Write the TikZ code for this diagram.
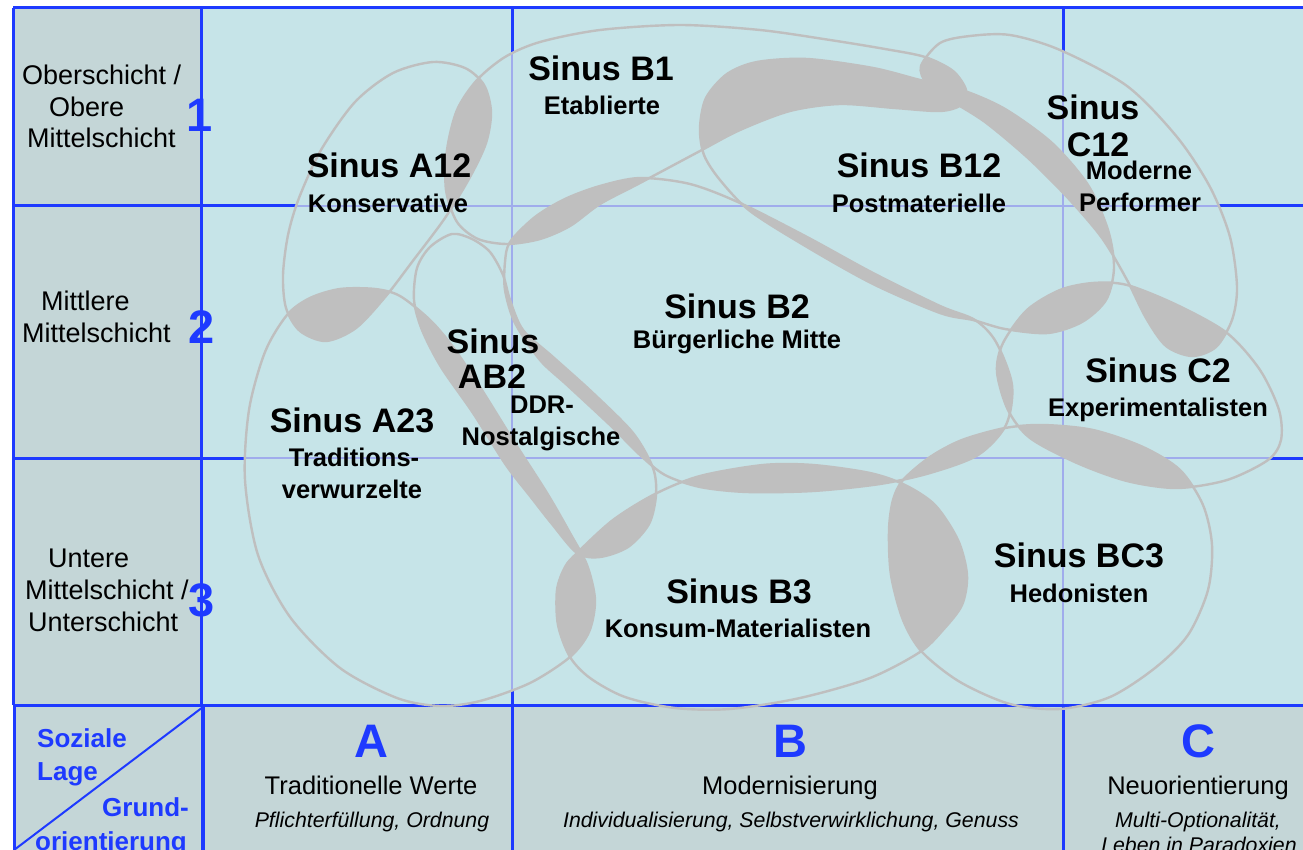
\documentclass[tikz,border=0pt]{standalone}
\usepackage{fontspec}
\setmainfont{Liberation Sans}
\definecolor{bgmain}{RGB}{198,228,232}
\definecolor{bgside}{RGB}{196,214,215}
\definecolor{blobgray}{RGB}{191,191,191}
\definecolor{gridblue}{RGB}{30,58,255}
\definecolor{thinline}{RGB}{160,172,236}

% milieu shapes (x right, y down, in px)
\def\blobK{plot[smooth cycle] coordinates {(433,62) (465,68) (484,85) (491,112) (486,143) (470,177) (445,218) (412,262) (386,296) (356,328) (326,341) (300,331) (286,308) (283,275) (288,235) (299,198) (321,150) (355,102) (393,73)}}
\def\blobE{plot[smooth cycle] coordinates {(540,42) (600,30) (680,25) (760,30) (830,40) (885,49) (925,57) (953,71) (966,90) (961,105) (940,111) (895,108) (840,104) (790,111) (740,130) (700,151) (640,183) (600,204) (570,226) (540,239) (507,244) (478,239) (457,222) (446,190) (447,150) (457,110) (477,80) (505,57)}}
\def\blobP{plot[smooth cycle] coordinates {(700,128) (706,98) (727,74) (757,62) (807,59) (873,68) (920,80) (962,90) (1005,109) (1052,143) (1088,185) (1108,230) (1114,268) (1106,300) (1082,322) (1048,333) (1005,329) (973,320) (940,313) (873,284) (807,247) (750,211) (720,180) (704,155)}}
\def\blobM{plot[smooth cycle] coordinates {(940,43) (970,36) (1010,35) (1060,50) (1127,86) (1177,137) (1210,187) (1230,237) (1237,287) (1232,320) (1216,347) (1192,356) (1166,346) (1146,318) (1127,280) (1102,238) (1068,198) (1028,158) (985,122) (950,100) (927,84) (921,66)}}
\def\blobG{plot[smooth cycle] coordinates {(510,242) (535,217) (565,199) (600,186) (640,178) (690,184) (740,203) (807,237) (873,273) (940,306) (975,320) (996,342) (1012,385) (1006,425) (978,455) (930,473) (880,484) (813,491) (747,492) (700,487) (665,475) (640,455) (610,425) (567,385) (540,360) (515,323) (505,290) (505,262)}}
\def\blobD{plot[smooth cycle] coordinates {(452,234) (472,239) (490,252) (503,275) (510,300) (523,330) (553,357) (593,393) (633,433) (653,468) (656,495) (649,524) (628,547) (600,557) (577,553) (552,524) (530,496) (506,465) (473,413) (441,367) (422,330) (414,300) (417,268) (430,247)}}
\def\blobT{plot[smooth cycle] coordinates {(265,352) (287,315) (310,298) (340,289) (375,289) (400,296) (430,320) (453,347) (480,387) (513,440) (547,493) (570,533) (587,565) (595,600) (589,632) (570,657) (530,683) (480,701) (440,706) (397,698) (340,668) (290,617) (258,555) (245,480) (249,410)}}
\def\blobX{plot[smooth cycle] coordinates {(997,372) (1003,343) (1027,310) (1060,290) (1093,283) (1127,285) (1177,305) (1227,333) (1260,370) (1279,410) (1281,440) (1268,460) (1227,480) (1177,488) (1127,481) (1077,463) (1030,438) (1008,410)}}
\def\blobH{plot[smooth cycle] coordinates {(903,480) (930,457) (962,440) (1005,428) (1043,425) (1093,430) (1143,447) (1180,470) (1203,505) (1212,545) (1208,590) (1188,635) (1155,668) (1110,697) (1060,709) (1010,704) (960,682) (922,652) (903,620) (891,575) (889,530) (893,500)}}
\def\blobS{plot[smooth cycle] coordinates {(577,553) (613,520) (655,494) (700,476) (763,465) (813,465) (870,473) (905,485) (935,505) (958,540) (967,575) (962,605) (943,630) (920,652) (870,678) (800,698) (730,709) (675,708) (625,697) (590,678) (570,657) (558,625) (557,590) (565,567)}}

\newcommand\milov[2]{\begin{scope}\clip #1;\fill[blobgray] #2;\end{scope}}
\newcommand\milthin[1]{\begin{scope}\clip #1;\draw[thinl] (512,8)--(512,705) (1063,8)--(1063,705) (201,206)--(1303,206) (201,458)--(1303,458);\end{scope}}

\begin{document}
\begin{tikzpicture}[x=1pt,y=-1pt,
  thickl/.style={draw=gridblue,line width=3pt},
  thinl/.style={draw=thinline,line width=1.1pt},
  blobline/.style={draw=blobgray,line width=2.4pt},
  ttl/.style={font=\fontsize{34}{38}\selectfont\bfseries,anchor=base,inner sep=0pt},
  sub/.style={font=\fontsize{25.5}{28}\selectfont\bfseries,anchor=base,inner sep=0pt},
  side/.style={font=\fontsize{27}{30}\selectfont,anchor=base west,inner sep=0pt},
  num/.style={font=\fontsize{47}{50}\selectfont\bfseries,text=gridblue,anchor=base,inner sep=0pt},
  orient/.style={font=\fontsize{25.5}{28}\selectfont,anchor=base,inner sep=0pt},
  orsub/.style={font=\fontsize{21.3}{24}\selectfont\itshape,anchor=base,inner sep=0pt},
  diag/.style={font=\fontsize{26}{28}\selectfont\bfseries,text=gridblue,anchor=base west,inner sep=0pt}]
\useasboundingbox (0,0) rectangle (1303,850);
\fill[white] (0,0) rectangle (1303,850);
\fill[bgmain] (13,8) rectangle (1303,705);
\fill[bgside] (13,8) rectangle (201,705);
\fill[bgside] (14,705) rectangle (1303,850);
% grid lines (thick)
\draw[thickl] (512,8)--(512,705) (1063,8)--(1063,705) (13,206)--(1303,206) (13,458)--(1303,458);
% milieu areas cover the thick lines
\begin{scope}
\clip (13,8) rectangle (1303,705);
\fill[bgmain] \blobK; \fill[bgmain] \blobE; \fill[bgmain] \blobP; \fill[bgmain] \blobM; \fill[bgmain] \blobG;
\fill[bgmain] \blobD; \fill[bgmain] \blobT; \fill[bgmain] \blobX; \fill[bgmain] \blobH; \fill[bgmain] \blobS;
\end{scope}
% thin grid lines inside milieus
\milthin\blobK \milthin\blobE \milthin\blobP \milthin\blobM \milthin\blobG
\milthin\blobD \milthin\blobT \milthin\blobX \milthin\blobH \milthin\blobS
% overlaps
\milov\blobK\blobE \milov\blobK\blobP \milov\blobK\blobM \milov\blobK\blobG \milov\blobK\blobD
\milov\blobK\blobT \milov\blobK\blobX \milov\blobK\blobH \milov\blobK\blobS
\milov\blobE\blobP \milov\blobE\blobM \milov\blobE\blobG \milov\blobE\blobD \milov\blobE\blobT
\milov\blobE\blobX \milov\blobE\blobH \milov\blobE\blobS
\milov\blobP\blobM \milov\blobP\blobG \milov\blobP\blobD \milov\blobP\blobT \milov\blobP\blobX
\milov\blobP\blobH \milov\blobP\blobS
\milov\blobM\blobG \milov\blobM\blobD \milov\blobM\blobT \milov\blobM\blobX \milov\blobM\blobH \milov\blobM\blobS
\milov\blobG\blobD \milov\blobG\blobT \milov\blobG\blobX \milov\blobG\blobH \milov\blobG\blobS
\milov\blobD\blobT \milov\blobD\blobX \milov\blobD\blobH \milov\blobD\blobS
\milov\blobT\blobX \milov\blobT\blobH \milov\blobT\blobS
\milov\blobX\blobH \milov\blobX\blobS
\milov\blobH\blobS
% borders
\draw[thickl] (13,8)--(1303,8) (13,8)--(13,705) (201,8)--(201,705) (13,705)--(1303,705);
\draw[thickl] (14,705)--(14,850) (512,705)--(512,850) (1063,705)--(1063,850);
\draw[draw=gridblue,line width=4pt] (203,705)--(203,850);
\draw[draw=gridblue,line width=2pt] (14,850)--(203,707);
% milieu outlines
\draw[blobline] \blobK; \draw[blobline] \blobE; \draw[blobline] \blobP; \draw[blobline] \blobM; \draw[blobline] \blobG;
\draw[blobline] \blobD; \draw[blobline] \blobT; \draw[blobline] \blobX; \draw[blobline] \blobH; \draw[blobline] \blobS;
% side labels
\node[side] (s1a) at (22,85) {Oberschicht /};
\node[side] (s1b) at (49,117) {Obere};
\node[side] (s1c) at (27,148) {Mittelschicht};
\node[side] (s2a) at (41,310) {Mittlere};
\node[side] (s2b) at (22,342) {Mittelschicht};
\node[side] (s3a) at (48,567) {Untere};
\node[side] (s3b) at (25,599) {Mittelschicht /};
\node[side] (s3c) at (28,631) {Unterschicht};
\node[num] (n1) at (200,132) {1};
\node[num] (n2) at (202,343) {2};
\node[num] (n3) at (202,616) {3};
% bottom labels
\node[num] (cA) at (371,757) {A};
\node[num] (cB) at (790,757) {B};
\node[num] (cC) at (1198,757) {C};
\node[orient] (oA) at (371,794) {Traditionelle Werte};
\node[orient] (oB) at (790,794) {Modernisierung};
\node[orient] (oC) at (1198,794) {Neuorientierung};
\node[orsub] (pA) at (372,827) {Pflichterfüllung, Ordnung};
\node[orsub] (pB) at (791,827) {Individualisierung, Selbstverwirklichung, Genuss};
\node[orsub] (pC) at (1198,827) {Multi-Optionalität,};
\node[orsub] (pC2) at (1199,852) {Leben in Paradoxien};
\node[diag] (d1) at (37,747) {Soziale};
\node[diag] (d2) at (37,780) {Lage};
\node[diag] (d3) at (102,816) {Grund-};
\node[diag] (d4) at (35,850) {orientierung};
% milieu labels
\node[ttl] (tB1) at (601,81) {Sinus B1};
\node[sub] (uB1) at (602,115) {Etablierte};
\node[ttl] (tA12) at (389,178) {Sinus A12};
\node[sub] (uA12) at (388,213) {Konservative};
\node[ttl] (tB12) at (919,178) {Sinus B12};
\node[sub] (uB12) at (919,213) {Postmaterielle};
\node[ttl] (tC12a) at (1093,120) {Sinus};
\node[ttl] (tC12b) at (1098,157) {C12};
\node[sub] (uC12a) at (1139,180) {Moderne};
\node[sub] (uC12b) at (1140,212) {Performer};
\node[ttl] (tB2) at (737,318) {Sinus B2};
\node[sub] (uB2) at (737,348) {Bürgerliche Mitte};
\node[ttl] (tAB2a) at (493,353) {Sinus};
\node[ttl] (tAB2b) at (492,388) {AB2};
\node[sub] (uAB2a) at (542,413) {DDR-};
\node[sub] (uAB2b) at (541,445) {Nostalgische};
\node[ttl] (tA23) at (352,432) {Sinus A23};
\node[sub] (uA23a) at (354,466) {Traditions-};
\node[sub] (uA23b) at (352,498) {verwurzelte};
\node[ttl] (tC2) at (1158,382) {Sinus C2};
\node[sub] (uC2) at (1158,416) {Experimentalisten};
\node[ttl] (tBC3) at (1079,567) {Sinus BC3};
\node[sub] (uBC3) at (1079,602) {Hedonisten};
\node[ttl] (tB3) at (739,603) {Sinus B3};
\node[sub] (uB3) at (738,637) {Konsum-Materialisten};
\end{tikzpicture}
\end{document}
